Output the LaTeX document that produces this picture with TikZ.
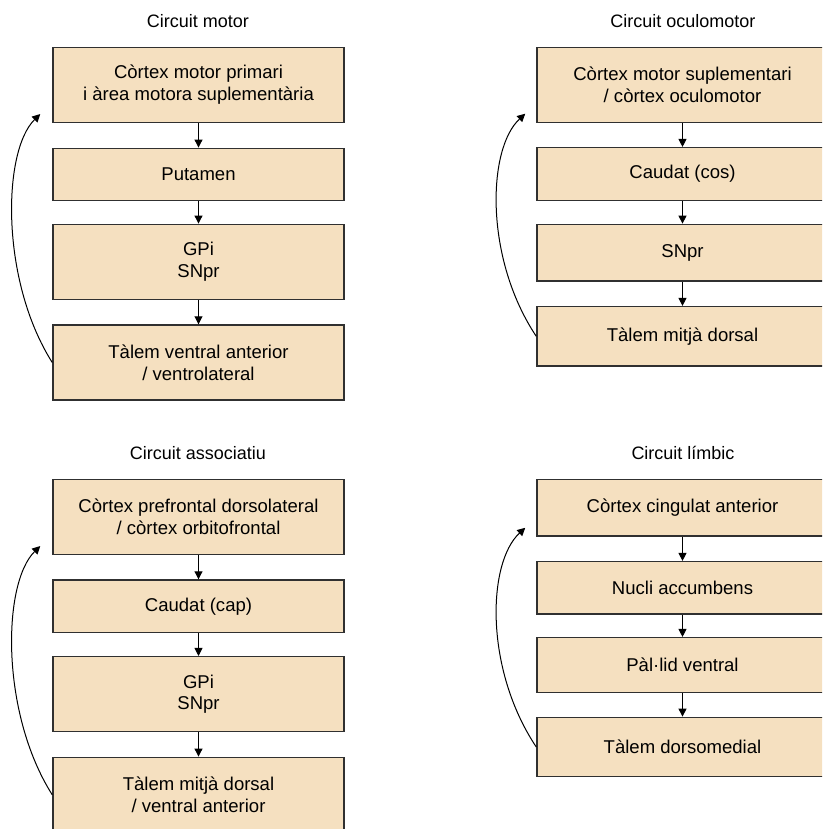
\documentclass[tikz,border=0pt]{standalone}
\usepackage{fontspec}
\setmainfont{Liberation Sans}
\usetikzlibrary{arrows.meta}
\definecolor{boxfill}{HTML}{F5E0C0}
\definecolor{boxline}{HTML}{303030}
\tikzset{area/.style={draw=boxline, line width=1.1pt, fill=boxfill, align=center, minimum width=218.25pt, inner sep=2pt, font=\fontsize{13.9}{16.3}\selectfont}}
\tikzset{tall/.style={minimum height=56.25pt}}
\tikzset{title/.style={font=\fontsize{13.5}{16.3}\selectfont}}
\tikzset{flow/.style={-{Triangle[length=6pt,width=6pt]}, line width=0.75pt}}

\begin{document}
\begin{tikzpicture}[x=0.75pt,y=-0.75pt]
\useasboundingbox (0,0) rectangle (822,829);
\clip (0,0) rectangle (822,829);
\node[title] (tmot) at (198,21) {Circuit motor};
\node[area, tall] (mot1) at (198.5,84.8) {Còrtex motor primari\\i àrea motora suplementària};
\node[area, minimum height=39pt] (mot2) at (198.5,174.3) {Putamen};
\node[area, tall] (mot3) at (198.5,261.8) {GPi\\SNpr};
\node[area, tall] (mot4) at (198.5,362.5) {Tàlem ventral anterior\\/ ventrolateral};
\draw[flow] (mot1) -- (mot2);
\draw[flow] (mot2) -- (mot3);
\draw[flow] (mot3) -- (mot4);
\coordinate (mot0) at ([xshift=-9pt,yshift=6.75pt]mot1.south west);
\draw[flow] (mot4.west) .. controls +(-52,-82) and +(-38,37) .. (mot0);

\node[title] (tocu) at (683,21) {Circuit oculomotor};
\node[area, tall] (ocu1) at (682.5,84.8) {Còrtex motor suplementari\\/ còrtex oculomotor};
\node[area, minimum height=39.5pt] (ocu2) at (682.5,174) {Caudat (cos)};
\node[area, minimum height=42.5pt] (ocu3) at (682.5,252.7) {SNpr};
\node[area, minimum height=44.5pt] (ocu4) at (682.5,336.3) {Tàlem mitjà dorsal};
\draw[flow] (ocu1) -- (ocu2);
\draw[flow] (ocu2) -- (ocu3);
\draw[flow] (ocu3) -- (ocu4);
\coordinate (ocu0) at ([xshift=-8.25pt,yshift=7pt]ocu1.south west);
\draw[flow] (ocu4.west) .. controls +(-52,-78) and +(-38,35) .. (ocu0);

\node[title] (taso) at (198,453) {Circuit associatiu};
\node[area, tall] (aso1) at (198.5,516.8) {Còrtex prefrontal dorsolateral\\/ còrtex orbitofrontal};
\node[area, minimum height=39.25pt] (aso2) at (198.5,606.2) {Caudat (cap)};
\node[area, tall] (aso3) at (198.5,694.2) {GPi\\SNpr};
\node[area, tall] (aso4) at (198.5,794.8) {Tàlem mitjà dorsal\\/ ventral anterior};
\draw[flow] (aso1) -- (aso2);
\draw[flow] (aso2) -- (aso3);
\draw[flow] (aso3) -- (aso4);
\coordinate (aso0) at ([xshift=-9pt,yshift=6.75pt]aso1.south west);
\draw[flow] (aso4.west) .. controls +(-52,-82) and +(-38,37) .. (aso0);

\node[title] (tlim) at (683,453) {Circuit límbic};
\node[area, minimum height=42.5pt] (lim1) at (682.5,507.7) {Còrtex cingulat anterior};
\node[area, minimum height=39.25pt] (lim2) at (682.5,587.8) {Nucli accumbens};
\node[area, minimum height=41pt] (lim3) at (682.5,665) {Pàl·lid ventral};
\node[area, minimum height=44.5pt] (lim4) at (682.5,747) {Tàlem dorsomedial};
\draw[flow] (lim1) -- (lim2);
\draw[flow] (lim2) -- (lim3);
\draw[flow] (lim3) -- (lim4);
\coordinate (lim0) at ([xshift=-8.25pt,yshift=6.75pt]lim1.south west);
\draw[flow] (lim4.west) .. controls +(-52,-78) and +(-38,35) .. (lim0);
\end{tikzpicture}
\end{document}
